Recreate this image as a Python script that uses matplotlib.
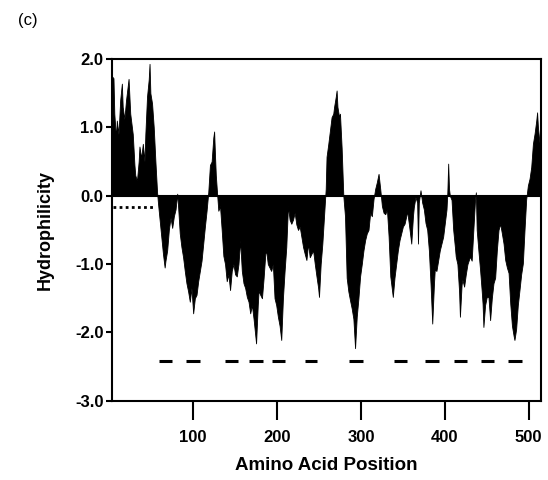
import numpy as np
import matplotlib
matplotlib.use("Agg")
import matplotlib.pyplot as plt

plt.rcParams['font.family'] = ['Liberation Sans', 'DejaVu Sans']
plt.rcParams['axes.unicode_minus'] = False

# hydrophilicity profile (residue, value)
position = [3, 5, 6, 8, 9, 11, 13, 15, 16, 18, 20, 23, 25, 27, 28, 30, 31, 33, 35, 36,
            38, 40, 42, 43, 45, 47, 48, 49, 51, 53, 55, 57, 58, 60, 62, 64, 66, 67, 69, 71,
            73, 75, 77, 79, 81, 82, 84, 86, 88, 90, 92, 94, 96, 98, 100, 102, 104, 106, 108, 110,
            112, 114, 116, 118, 120, 122, 124, 125, 126, 127, 129, 130, 132, 134, 136, 138, 140, 142, 144, 146,
            148, 150, 152, 154, 156, 158, 160, 162, 164, 166, 168, 170, 172, 175, 177, 178, 180, 182, 184, 186,
            187, 189, 191, 193, 195, 197, 199, 201, 203, 205, 207, 209, 211, 213, 215, 217, 219, 221, 223, 225,
            227, 229, 231, 233, 235, 237, 239, 241, 243, 245, 247, 249, 250, 252, 254, 256, 258, 259, 261, 263,
            265, 267, 268, 270, 271, 272, 274, 275, 276, 277, 279, 281, 283, 285, 287, 289, 291, 293, 295, 297,
            299, 301, 303, 305, 307, 309, 311, 313, 315, 317, 319, 321, 323, 325, 327, 329, 331, 333, 335, 338,
            340, 342, 344, 346, 348, 350, 352, 354, 355, 357, 359, 360, 362, 363, 365, 367, 368, 369, 371, 373,
            375, 377, 379, 381, 383, 385, 387, 388, 390, 392, 394, 396, 398, 400, 402, 403, 404, 405, 406, 408,
            410, 412, 413, 415, 417, 418, 420, 421, 423, 425, 427, 430, 432, 434, 436, 437, 438, 440, 442, 444,
            445, 446, 448, 450, 452, 454, 456, 458, 460, 462, 464, 466, 468, 470, 472, 474, 476, 478, 480, 482,
            483, 485, 487, 489, 491, 493, 495, 497, 499, 501, 503, 505, 507, 509, 510, 511, 513, 514]
hydro = [1.75, 1.72, 1.2, 0.85, 1.1, 0.9, 1.4, 1.64, 1.3, 1.12, 1.4, 1.71, 1.2, 1.0, 0.9, 0.45, 0.3, 0.22, 0.5, 0.72,
         0.55, 0.76, 0.5, 0.9, 1.45, 1.7, 1.93, 1.5, 1.35, 1.0, 0.5, 0.05, -0.1, -0.35, -0.6, -0.85, -1.05, -0.95, -0.8, -0.5,
         -0.32, -0.47, -0.3, -0.2, 0.03, -0.15, -0.55, -0.75, -0.9, -1.1, -1.28, -1.4, -1.55, -1.35, -1.72, -1.5, -1.45, -1.25, -1.1, -0.95,
         -0.7, -0.45, -0.22, 0.05, 0.45, 0.5, 0.85, 0.94, 0.6, 0.3, -0.05, -0.22, -0.15, -0.5, -0.88, -1.0, -1.25, -1.15, -1.38, -1.1,
         -1.0, -1.15, -1.18, -1.0, -0.65, -1.1, -1.28, -1.35, -1.48, -1.55, -1.72, -1.6, -1.8, -2.16, -1.6, -1.39, -1.45, -1.5, -1.2, -0.85,
         -0.8, -1.0, -1.05, -1.1, -1.0, -1.5, -1.6, -1.77, -1.9, -2.11, -1.5, -1.1, -0.75, -0.15, -0.35, -0.41, -0.35, -0.25, -0.42, -0.5,
         -0.45, -0.6, -0.75, -0.85, -0.94, -0.7, -0.9, -0.85, -0.8, -1.0, -1.18, -1.35, -1.48, -1.0, -0.7, -0.3, 0.1, 0.57, 0.75, 0.95,
         1.15, 1.2, 1.3, 1.45, 1.54, 1.3, 1.15, 1.2, 0.95, 0.7, 0.0, -0.3, -1.2, -1.4, -1.53, -1.65, -1.8, -2.23, -1.77, -1.5,
         -1.18, -1.0, -0.8, -0.65, -0.55, -0.5, -0.25, -0.3, -0.05, 0.1, 0.2, 0.32, 0.1, -0.15, -0.25, -0.27, -0.2, -0.6, -1.18, -1.48,
         -1.2, -1.0, -0.8, -0.65, -0.55, -0.45, -0.41, -0.3, -0.22, -0.4, -0.6, -0.7, -0.3, -0.17, -0.02, -0.1, -0.7, -0.1, 0.08, -0.1,
         -0.2, -0.4, -0.5, -0.8, -1.3, -1.87, -1.3, -1.08, -1.1, -0.95, -0.8, -0.7, -0.6, -0.4, -0.2, 0.05, 0.47, 0.1, 0.0, -0.06,
         -0.5, -0.75, -0.89, -1.0, -1.4, -1.77, -1.3, -1.23, -1.33, -1.15, -1.0, -0.89, -0.95, -0.5, -0.06, 0.05, -0.5, -0.8, -1.08, -1.4,
         -1.58, -1.92, -1.6, -1.48, -1.48, -1.82, -1.5, -1.28, -1.2, -0.8, -0.5, -0.41, -0.55, -0.7, -0.94, -1.05, -1.13, -1.58, -1.9, -2.05,
         -2.11, -1.95, -1.6, -1.38, -1.15, -0.99, -0.5, -0.05, 0.15, 0.25, 0.42, 0.76, 0.91, 1.1, 1.22, 1.0, 0.76, 0.5]

# predicted segments (start, end) drawn as dashes
tm_start = [59, 92, 138, 167, 194, 233, 286, 339, 376, 411, 443, 475]
tm_end = [75, 108, 154, 183, 210, 248, 302, 355, 393, 427, 459, 492]
tm_level = -2.42

# dotted signal region
sig_start, sig_end, sig_level = 5, 53, -0.17

xticks = [100, 200, 300, 400, 500]
yticks = [2.0, 1.0, 0.0, -1.0, -2.0, -3.0]

fig = plt.figure(figsize=(5.48, 4.80), dpi=100)
ax = fig.add_axes([0.204, 0.165, 0.783, 0.712])

pos = np.array(position)
val = np.array(hydro)
ax.fill_between(pos, val, 0, color='black', lw=0.6, edgecolor='black')
ax.axhline(0, color='black', lw=1.5)

for s, e in zip(tm_start, tm_end):
    ax.plot([s, e], [tm_level, tm_level], color='black', lw=2.2, solid_capstyle='butt')

ax.plot([sig_start, sig_end], [sig_level, sig_level], color='black', lw=2,
        linestyle=(0, (1, 1.2)))

ax.set_xlim(3, 514.5)
ax.set_ylim(-3, 2)
ax.set_xticks(xticks)
ax.set_yticks(yticks)
ax.set_yticklabels(['%.1f' % t for t in yticks])

for sp in ax.spines.values():
    sp.set_linewidth(1.5)

ax.tick_params(axis='x', direction='out', length=14, width=1.5, pad=7, labelsize=12)
ax.tick_params(axis='y', direction='out', length=4, width=1.5, pad=2, labelsize=12)
for lab in ax.get_xticklabels() + ax.get_yticklabels():
    lab.set_fontweight('bold')

ax.set_xlabel('Amino Acid Position', fontsize=13.5, fontweight='bold', labelpad=9)
ax.set_ylabel('Hydrophilicity', fontsize=13, fontweight='bold', labelpad=15)

fig.text(0.033, 0.958, '(c)', fontsize=12, ha='left', va='center')

fig.savefig('out.png', dpi=100)
